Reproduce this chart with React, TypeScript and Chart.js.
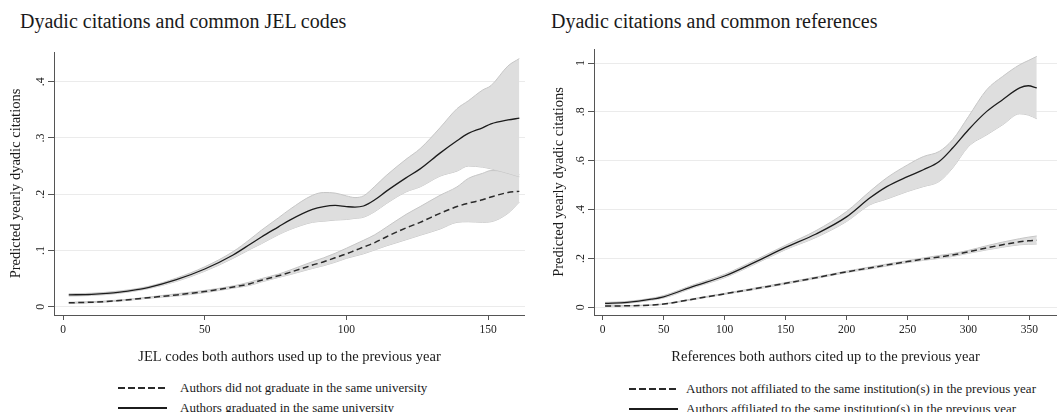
import React, { useEffect, useRef } from 'react';
import { Chart, registerables } from 'chart.js';

Chart.register(...registerables);

const FONT = "'Liberation Serif', 'Times New Roman', serif";

// ---------- Left panel: common JEL codes ----------
const JEL_TITLE = 'Dyadic citations and common JEL codes';
const JEL_X_TITLE = 'JEL codes both authors used up to the previous year';
const JEL_X = [2, 10, 20, 30, 40, 50, 60, 66, 70, 76, 80, 88, 92, 96, 100, 103, 106, 110, 114, 121, 126, 133, 139, 143, 148, 151, 157, 161];
const JEL_SAME = [0.021, 0.022, 0.026, 0.034, 0.048, 0.067, 0.092, 0.111, 0.124, 0.142, 0.154, 0.173, 0.178, 0.180, 0.178, 0.177, 0.179, 0.190, 0.205, 0.229, 0.245, 0.273, 0.295, 0.308, 0.318, 0.325, 0.332, 0.335];
const JEL_SAME_HI = [0.023, 0.024, 0.028, 0.036, 0.051, 0.071, 0.098, 0.120, 0.136, 0.158, 0.173, 0.198, 0.203, 0.202, 0.197, 0.194, 0.197, 0.214, 0.233, 0.262, 0.281, 0.318, 0.352, 0.366, 0.385, 0.393, 0.428, 0.441];
const JEL_SAME_LO = [0.019, 0.020, 0.024, 0.032, 0.045, 0.063, 0.086, 0.102, 0.112, 0.128, 0.137, 0.150, 0.152, 0.154, 0.155, 0.157, 0.159, 0.169, 0.183, 0.204, 0.213, 0.232, 0.241, 0.250, 0.248, 0.245, 0.237, 0.231];
const JEL_DIFF = [0.007, 0.008, 0.011, 0.016, 0.021, 0.027, 0.035, 0.041, 0.047, 0.055, 0.061, 0.074, 0.080, 0.087, 0.094, 0.100, 0.106, 0.114, 0.124, 0.140, 0.150, 0.166, 0.178, 0.184, 0.190, 0.195, 0.203, 0.205];
const JEL_DIFF_HI = [0.008, 0.009, 0.012, 0.017, 0.023, 0.029, 0.037, 0.044, 0.050, 0.058, 0.065, 0.080, 0.087, 0.095, 0.104, 0.111, 0.118, 0.128, 0.141, 0.164, 0.178, 0.198, 0.213, 0.228, 0.237, 0.242, 0.240, 0.235];
const JEL_DIFF_LO = [0.006, 0.007, 0.010, 0.015, 0.019, 0.025, 0.033, 0.038, 0.044, 0.052, 0.057, 0.068, 0.073, 0.079, 0.086, 0.090, 0.094, 0.101, 0.108, 0.119, 0.127, 0.138, 0.150, 0.151, 0.150, 0.151, 0.166, 0.186];
const JEL_X_TICKS = [0, 50, 100, 150];
const JEL_Y_TICKS = [0, 0.1, 0.2, 0.3, 0.4];
const JEL_LEGEND = ['Authors did not graduate in the same university', 'Authors graduated in the same university'];

// ---------- Right panel: common references ----------
const REF_TITLE = 'Dyadic citations and common references';
const REF_X_TITLE = 'References both authors cited up to the previous year';
const REF_X = [2, 20, 40, 50, 75, 100, 125, 150, 175, 200, 219, 233, 250, 263, 276, 287, 300, 315, 328, 342, 349, 356];
const REF_SAME = [0.016, 0.020, 0.033, 0.043, 0.087, 0.128, 0.185, 0.245, 0.300, 0.370, 0.447, 0.494, 0.535, 0.563, 0.597, 0.652, 0.727, 0.802, 0.850, 0.898, 0.907, 0.898];
const REF_SAME_HI = [0.020, 0.024, 0.037, 0.048, 0.093, 0.135, 0.193, 0.254, 0.314, 0.392, 0.474, 0.530, 0.583, 0.617, 0.638, 0.686, 0.781, 0.891, 0.945, 0.993, 1.010, 1.027];
const REF_SAME_LO = [0.012, 0.016, 0.029, 0.038, 0.081, 0.121, 0.177, 0.236, 0.286, 0.351, 0.419, 0.443, 0.474, 0.494, 0.515, 0.570, 0.658, 0.706, 0.747, 0.792, 0.787, 0.772];
const REF_DIFF = [0.005, 0.006, 0.009, 0.013, 0.034, 0.055, 0.076, 0.098, 0.121, 0.145, 0.161, 0.173, 0.187, 0.197, 0.206, 0.214, 0.227, 0.243, 0.256, 0.268, 0.272, 0.274];
const REF_DIFF_HI = [0.006, 0.007, 0.010, 0.014, 0.036, 0.057, 0.079, 0.101, 0.124, 0.148, 0.165, 0.177, 0.191, 0.202, 0.212, 0.220, 0.233, 0.252, 0.267, 0.281, 0.287, 0.292];
const REF_DIFF_LO = [0.004, 0.005, 0.008, 0.012, 0.032, 0.053, 0.073, 0.095, 0.118, 0.142, 0.157, 0.169, 0.183, 0.192, 0.200, 0.208, 0.221, 0.235, 0.246, 0.256, 0.258, 0.259];
const REF_X_TICKS = [0, 50, 100, 150, 200, 250, 300, 350];
const REF_Y_TICKS = [0, 0.2, 0.4, 0.6, 0.8, 1];
const REF_LEGEND = ['Authors not affiliated to the same institution(s) in the previous year', 'Authors affiliated to the same institution(s) in the previous year'];

const Y_TITLE = 'Predicted yearly dyadic citations';

const pts = (xs: number[], ys: number[]) => xs.map((x, i) => ({ x, y: ys[i] }));
const fmtY = (v: number) => (v === 0 ? '0' : v === 1 ? '1' : v.toFixed(1).replace(/^0/, ''));

type PanelProps = {
  left: number;
  width: number;
  height: number;
  padLeft: number;
  padTop: number;
  yAxisWidth: number;
  xs: number[];
  same: number[];
  sameHi: number[];
  sameLo: number[];
  diff: number[];
  diffHi: number[];
  diffLo: number[];
  xMin: number;
  xMax: number;
  yMin: number;
  yMax: number;
  xTicks: number[];
  yTicks: number[];
  xTitle: string;
};

function Panel(p: PanelProps) {
  const ref = useRef<HTMLCanvasElement | null>(null);
  useEffect(() => {
    if (!ref.current) return;
    const band = { borderColor: '#c6c6c6', borderWidth: 1, backgroundColor: '#dedede', pointRadius: 0, cubicInterpolationMode: 'monotone' as const };
    const chart = new Chart(ref.current, {
      type: 'line',
      data: {
        datasets: [
          { data: pts(p.xs, p.same), borderColor: '#1c1c1c', borderWidth: 1.3, pointRadius: 0, fill: false, cubicInterpolationMode: 'monotone' },
          { data: pts(p.xs, p.diff), borderColor: '#2a2a2a', borderWidth: 1.5, borderDash: [6, 3.5], pointRadius: 0, fill: false, cubicInterpolationMode: 'monotone' },
          { data: pts(p.xs, p.sameHi), ...band, fill: '+1' },
          { data: pts(p.xs, p.sameLo), ...band, fill: false },
          { data: pts(p.xs, p.diffHi), ...band, fill: '+1' },
          { data: pts(p.xs, p.diffLo), ...band, fill: false },
        ],
      },
      options: {
        responsive: false,
        animation: false,
        events: [],
        layout: { padding: { left: p.padLeft, right: 0, top: p.padTop, bottom: 0 } },
        plugins: { legend: { display: false }, tooltip: { enabled: false }, title: { display: false } },
        scales: {
          x: {
            type: 'linear',
            min: p.xMin,
            max: p.xMax,
            afterBuildTicks: (s: any) => { s.ticks = p.xTicks.map((v) => ({ value: v })); },
            afterFit: (s: any) => { s.height = 57; },
            grid: { drawOnChartArea: false, drawTicks: true, tickLength: 5, tickColor: '#555', tickWidth: 1 },
            border: { display: true, color: '#555', width: 1 },
            ticks: { font: { family: FONT, size: 11.5 }, color: '#222', padding: 3, minRotation: 0, maxRotation: 0, autoSkip: false, callback: (v: any) => String(v) },
            title: { display: true, text: p.xTitle, font: { family: FONT, size: 14.5 }, color: '#1a1a1a', padding: { top: 0, bottom: 6 } },
          },
          y: {
            type: 'linear',
            min: p.yMin,
            max: p.yMax,
            afterBuildTicks: (s: any) => { s.ticks = p.yTicks.map((v) => ({ value: v })); },
            afterFit: (s: any) => { s.width = p.yAxisWidth; },
            grid: { color: '#ebebeb', lineWidth: 1, drawTicks: true, tickLength: 6, tickColor: '#555', tickWidth: 1 },
            border: { display: true, color: '#555', width: 1 },
            ticks: { font: { family: FONT, size: 12 }, color: '#222', padding: 3, minRotation: 90, maxRotation: 90, crossAlign: 'center', autoSkip: false, callback: (v: any) => fmtY(Number(v)) },
            title: { display: true, text: Y_TITLE, font: { family: FONT, size: 14.5 }, color: '#1a1a1a', padding: { top: 7, bottom: 0 } },
          },
        },
      } as any,
    });
    return () => chart.destroy();
  }, []);
  return (
    <canvas
      ref={ref}
      width={p.width}
      height={p.height}
      style={{ position: 'absolute', left: p.left, top: 0, width: p.width, height: p.height }}
    />
  );
}

function LegendRow({ x, y, dashed, text, textX }: { x: number; y: number; dashed: boolean; text: string; textX: number }) {
  return (
    <>
      <div
        style={{
          position: 'absolute',
          left: x,
          top: y - 0.75,
          width: 49,
          height: 1.5,
          background: dashed ? 'repeating-linear-gradient(to right, #2a2a2a 0 7px, transparent 7px 10px)' : '#1c1c1c',
        }}
      />
      <div style={{ position: 'absolute', left: textX, top: y - 10, height: 20, lineHeight: '20px', fontFamily: FONT, fontSize: 13, color: '#1a1a1a', whiteSpace: 'nowrap' }}>
        {text}
      </div>
    </>
  );
}

const titleStyle: React.CSSProperties = {
  position: 'absolute',
  top: 11,
  fontFamily: FONT,
  fontSize: 20,
  lineHeight: '20px',
  color: '#1a1a1a',
  whiteSpace: 'nowrap',
};

export default function App() {
  return (
    <div style={{ position: 'absolute', left: 0, top: 0, width: 1057, height: 412, overflow: 'hidden', background: '#fff' }}>
      <div style={{ ...titleStyle, left: 20 }}>{JEL_TITLE}</div>
      <div style={{ ...titleStyle, left: 551 }}>{REF_TITLE}</div>
      <Panel
        left={0}
        width={525}
        height={372}
        padLeft={0}
        padTop={52}
        yAxisWidth={54}
        xs={JEL_X}
        same={JEL_SAME}
        sameHi={JEL_SAME_HI}
        sameLo={JEL_SAME_LO}
        diff={JEL_DIFF}
        diffHi={JEL_DIFF_HI}
        diffLo={JEL_DIFF_LO}
        xMin={-3.2}
        xMax={163}
        yMin={-0.0147}
        yMax={0.4527}
        xTicks={JEL_X_TICKS}
        yTicks={JEL_Y_TICKS}
        xTitle={JEL_X_TITLE}
      />
      <Panel
        left={520}
        width={537}
        height={372}
        padLeft={23}
        padTop={49}
        yAxisWidth={51}
        xs={REF_X}
        same={REF_SAME}
        sameHi={REF_SAME_HI}
        sameLo={REF_SAME_LO}
        diff={REF_DIFF}
        diffHi={REF_DIFF_HI}
        diffLo={REF_DIFF_LO}
        xMin={-7.1}
        xMax={372.6}
        yMin={-0.0316}
        yMax={1.0574}
        xTicks={REF_X_TICKS}
        yTicks={REF_Y_TICKS}
        xTitle={REF_X_TITLE}
      />
      <LegendRow x={118} y={388} dashed={true} text={JEL_LEGEND[0]} textX={180} />
      <LegendRow x={118} y={408} dashed={false} text={JEL_LEGEND[1]} textX={180} />
      <LegendRow x={629} y={389} dashed={true} text={REF_LEGEND[0]} textX={686} />
      <LegendRow x={629} y={409} dashed={false} text={REF_LEGEND[1]} textX={686} />
    </div>
  );
}
